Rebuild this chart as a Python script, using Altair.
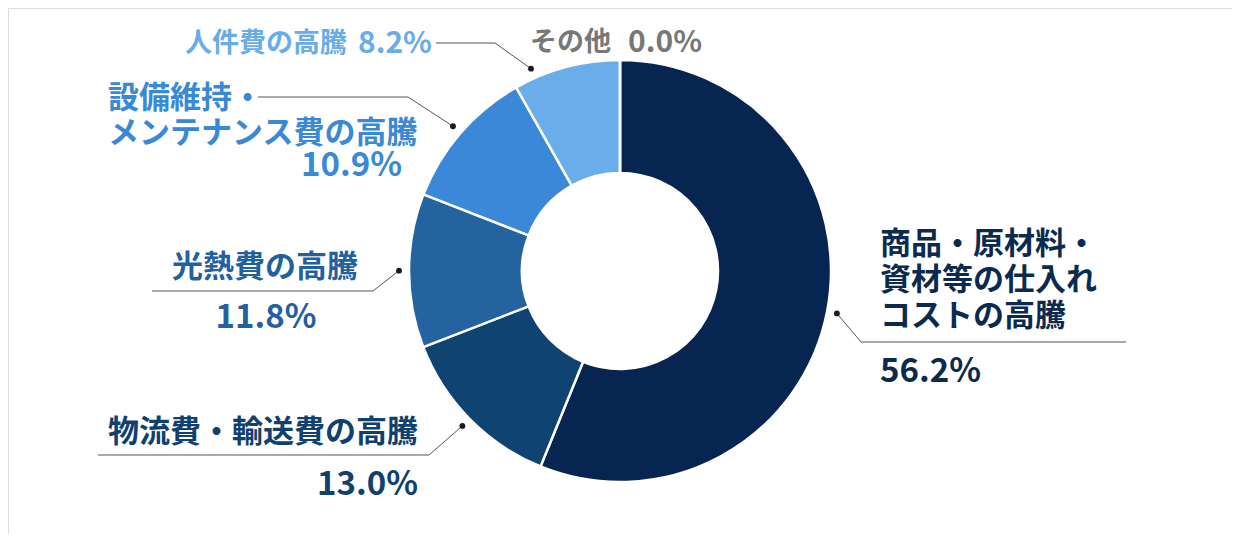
import math
import altair as alt
import pandas as pd

# ---------------- data ----------------
categories = [
    "商品・原材料・資材等の仕入れコストの高騰",
    "物流費・輸送費の高騰",
    "光熱費の高騰",
    "設備維持・メンテナンス費の高騰",
    "人件費の高騰",
    "その他",
]
values = [56.2, 13.0, 11.8, 10.9, 8.2, 0.0]
slice_colors = ["#062550", "#0e4372", "#2462a0", "#3b88d8", "#69aeea", "#7a7a7a"]
label_colors = ["#0b2a50", "#0f406e", "#23619e", "#3a89d6", "#68ade9", "#777777"]
label_lines = [
    ["商品・原材料・", "資材等の仕入れ", "コストの高騰"],
    ["物流費・輸送費の高騰"],
    ["光熱費の高騰"],
    ["設備維持・", "メンテナンス費の高騰"],
    ["人件費の高騰"],
    ["その他"],
]

# ---------------- layout ----------------
W, H = 1224, 526
OFF = 8  # page margin
CX, CY = W / 2, H / 2
R_OUT, R_IN, R_DOT = 211, 98, 221
FONT = "Noto Sans CJK JP"

# text placement per category: label line positions, align, size, value position, align, size
text_layout = [
    ([(880, 245), (880, 281), (880, 317)], "left", 31, (880, 372), "left", 33),
    ([(418, 433)], "right", 31, (418, 485), "right", 33),
    ([(265, 268)], "center", 31, (266, 318), "center", 33),
    ([(108, 99), (108, 134)], "left", 31, (402, 166), "right", 33),
    ([(347, 44)], "right", 27, (432, 44), "right", 30),
    ([(530, 43)], "left", 27, (628, 43), "left", 30),
]
# leader: angle offset (deg) for the dot, elbow point, end x (None = no leader)
leader_layout = [
    (0, (861, 342), 1126),
    (0, (429, 455), 98),
    (0, (373, 291), 152),
    (0, (408, 97), 258),
    (-9, (495, 43), 436),
    None,
]

# ---------------- build tables ----------------
arc_df = pd.DataFrame({"cat": categories, "val": values, "idx": list(range(len(values)))})

rows = []
for i, cat in enumerate(categories):
    pos, al, fs, vpos, val_al, vfs = text_layout[i]
    for (x, y), line in zip(pos, label_lines[i]):
        rows.append({"x": x - OFF, "y": y - OFF, "t": line, "al": al, "fs": fs, "col": label_colors[i]})
    rows.append({"x": vpos[0] - OFF, "y": vpos[1] - OFF, "t": f"{values[i]:.1f}%", "al": val_al,
                 "fs": vfs, "col": label_colors[i]})
text_df = pd.DataFrame(rows)

total = sum(values)
segs, dots = [], []
cum = 0.0
for i, v in enumerate(values):
    mid = (cum + v / 2) / total * 360
    cum += v
    if leader_layout[i] is None:
        continue
    off, (ex, ey), endx = leader_layout[i]
    a = math.radians(mid + off)
    dx, dy = CX + R_DOT * math.sin(a), CY - R_DOT * math.cos(a)
    dots.append({"x": dx, "y": dy})
    segs.append({"x": dx, "y": dy, "x2": ex - OFF, "y2": ey - OFF})
    segs.append({"x": ex - OFF, "y": ey - OFF, "x2": endx - OFF, "y2": ey - OFF})
seg_df = pd.DataFrame(segs)
dot_df = pd.DataFrame(dots)

xs = alt.Scale(domain=[0, W], range=[0, W], nice=False, zero=False)
ys = alt.Scale(domain=[0, H], range=[0, H], nice=False, zero=False)

arcs = alt.Chart(arc_df).mark_arc(
    outerRadius=R_OUT, innerRadius=R_IN, stroke="white", strokeWidth=2.5
).encode(
    theta=alt.Theta("val:Q", stack=True),
    order=alt.Order("idx:Q"),
    color=alt.Color("cat:N", scale=alt.Scale(domain=categories, range=slice_colors), legend=None),
)

lines = alt.Chart(seg_df).mark_rule(color="#555555", strokeWidth=1).encode(
    x=alt.X("x:Q", scale=xs, axis=None),
    y=alt.Y("y:Q", scale=ys, axis=None),
    x2="x2:Q",
    y2="y2:Q",
)

pts = alt.Chart(dot_df).mark_circle(color="#1a1a1a", opacity=1, size=34).encode(
    x=alt.X("x:Q", scale=xs, axis=None),
    y=alt.Y("y:Q", scale=ys, axis=None),
)

text_layers = []
for al in ["left", "center", "right"]:
    sub = text_df[text_df["al"] == al]
    text_layers.append(
        alt.Chart(sub).mark_text(align=al, baseline="middle", font=FONT, fontWeight="bold").encode(
            x=alt.X("x:Q", scale=xs, axis=None),
            y=alt.Y("y:Q", scale=ys, axis=None),
            text="t:N",
            size=alt.Size("fs:Q", scale=None),
            color=alt.Color("col:N", scale=None),
        )
    )

chart = alt.layer(arcs, lines, pts, *text_layers).properties(
    width=W, height=H, padding=0, autosize=alt.AutoSizeParams(type="none")
).configure_view(stroke="transparent", strokeWidth=0).configure(background="white")

chart.save("out.html", embed_options={"renderer": "svg", "actions": False})
